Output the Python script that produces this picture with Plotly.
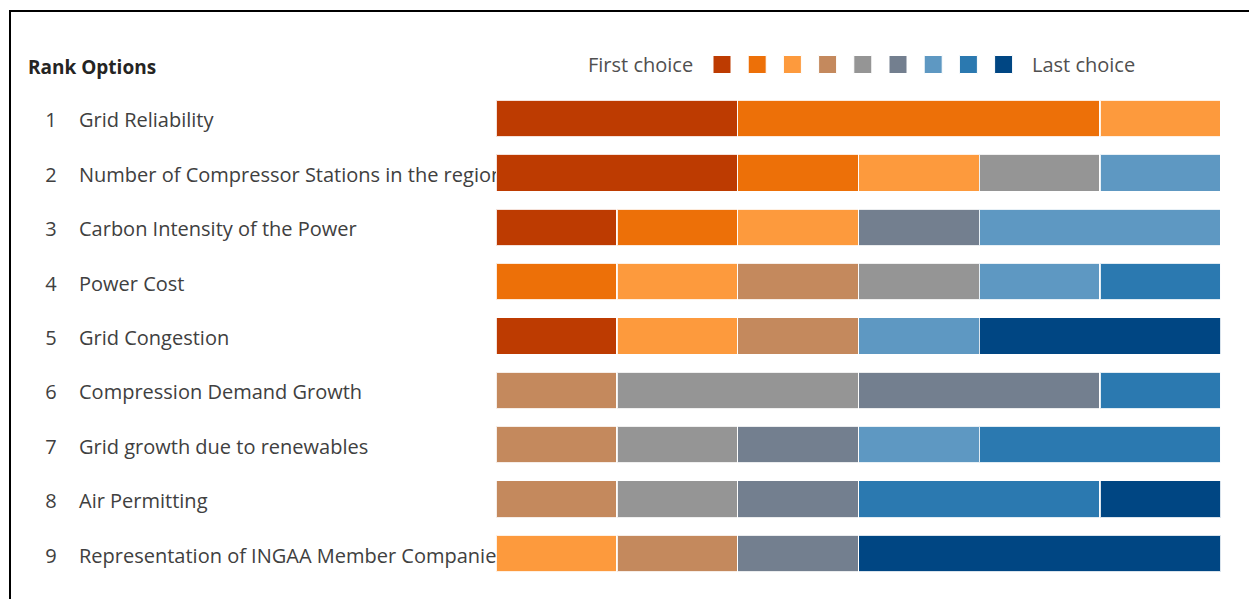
import plotly.graph_objects as go

W, H = 1249, 599

# Ranked options, top to bottom
ranks = [1, 2, 3, 4, 5, 6, 7, 8, 9]
options = [
    "Grid Reliability",
    "Number of Compressor Stations in the region",
    "Carbon Intensity of the Power",
    "Power Cost",
    "Grid Congestion",
    "Compression Demand Growth",
    "Grid growth due to renewables",
    "Air Permitting",
    "Representation of INGAA Member Companies",
]

# Number of respondents placing each option at a given choice position
choice_1 = [2, 2, 1, 0, 1, 0, 0, 0, 0]
choice_2 = [3, 1, 1, 1, 0, 0, 0, 0, 0]
choice_3 = [1, 1, 1, 1, 1, 0, 0, 0, 1]
choice_4 = [0, 0, 0, 1, 1, 1, 1, 1, 1]
choice_5 = [0, 1, 0, 1, 0, 2, 1, 1, 0]
choice_6 = [0, 0, 1, 0, 0, 2, 1, 1, 1]
choice_7 = [0, 1, 2, 1, 1, 0, 1, 0, 0]
choice_8 = [0, 0, 0, 1, 0, 1, 2, 2, 0]
choice_9 = [0, 0, 0, 0, 2, 0, 0, 1, 3]

choice_colors = [
    "#bd3b01", "#ed7008", "#fd9a3d", "#c4895d", "#959595",
    "#737f8f", "#5e98c2", "#2b79b0", "#004683",
]

choices = [choice_1, choice_2, choice_3, choice_4, choice_5,
           choice_6, choice_7, choice_8, choice_9]

FONT = "Open Sans"
TEXT_COLOR = "#404040"

fig = go.Figure()

# Option labels sit underneath the bars (first subplot), so long names get covered
fig.add_trace(go.Scatter(
    x=[79] * len(options), y=ranks, text=options, mode="text",
    textposition="middle right",
    textfont=dict(family=FONT, size=20, color=TEXT_COLOR),
    hoverinfo="skip", showlegend=False, cliponaxis=False,
    xaxis="x", yaxis="y",
))
fig.add_trace(go.Scatter(
    x=[51] * len(ranks), y=ranks, text=[str(r) for r in ranks], mode="text",
    textposition="middle center",
    textfont=dict(family=FONT, size=20, color=TEXT_COLOR),
    hoverinfo="skip", showlegend=False, cliponaxis=False,
    xaxis="x", yaxis="y",
))

# Stacked choice bars
for i, (vals, col) in enumerate(zip(choices, choice_colors)):
    fig.add_trace(go.Bar(
        x=vals, y=ranks, orientation="h",
        marker=dict(color=col, line=dict(color="rgba(255,255,255,0.85)", width=1.5)),
        name=f"Choice {i + 1}", showlegend=False,
        xaxis="x2", yaxis="y2",
    ))

bar_dom = [(H - 580.7) / H, (H - 91.3) / H]
lbl_dom = [(H - 584.7) / H, (H - 95.3) / H]

fig.update_layout(
    width=W, height=H,
    margin=dict(l=0, r=0, t=0, b=0),
    paper_bgcolor="white",
    plot_bgcolor="rgba(0,0,0,0)",
    barmode="stack",
    bargap=0.32,
    xaxis=dict(domain=[0, 1], range=[0, W], visible=False, fixedrange=True),
    yaxis=dict(domain=lbl_dom, range=[9.5, 0.5], visible=False, fixedrange=True),
    xaxis2=dict(domain=[496 / W, 1221 / W], range=[0, 6], visible=False,
                anchor="y2", fixedrange=True),
    yaxis2=dict(domain=bar_dom, range=[9.5, 0.5], visible=False,
                anchor="x2", fixedrange=True),
    font=dict(family=FONT, color=TEXT_COLOR),
)

# Header
fig.add_annotation(
    x=26 / W, y=(H - 67) / H, xref="paper", yref="paper",
    text="<b>Rank Options</b>", showarrow=False, xanchor="left", yanchor="middle",
    font=dict(family=FONT, size=19, color="#252423"),
)

# Colour key: first choice to last choice
key_x0, key_step, key_size, key_y = 713, 35.2, 18, 64.5
fig.add_annotation(
    x=(key_x0 - 18) / W, y=(H - key_y) / H, xref="paper", yref="paper",
    text="First choice", showarrow=False, xanchor="right", yanchor="middle",
    font=dict(family=FONT, size=20, color="#505050"),
)
for i, col in enumerate(choice_colors):
    x0 = key_x0 + i * key_step
    fig.add_shape(
        type="rect", xref="paper", yref="paper",
        x0=x0 / W, x1=(x0 + key_size) / W,
        y0=(H - key_y - key_size / 2) / H, y1=(H - key_y + key_size / 2) / H,
        fillcolor=col, line=dict(color="white", width=1),
    )
fig.add_annotation(
    x=(key_x0 + 8 * key_step + key_size + 17) / W, y=(H - key_y) / H,
    xref="paper", yref="paper",
    text="Last choice", showarrow=False, xanchor="left", yanchor="middle",
    font=dict(family=FONT, size=20, color="#505050"),
)

# Frame around the visual
fig.add_shape(
    type="rect", xref="paper", yref="paper",
    x0=10 / W, x1=1.2, y0=-0.2, y1=(H - 11) / H,
    line=dict(color="black", width=2), fillcolor="rgba(0,0,0,0)", layer="above",
)

fig.write_html("out.html")
